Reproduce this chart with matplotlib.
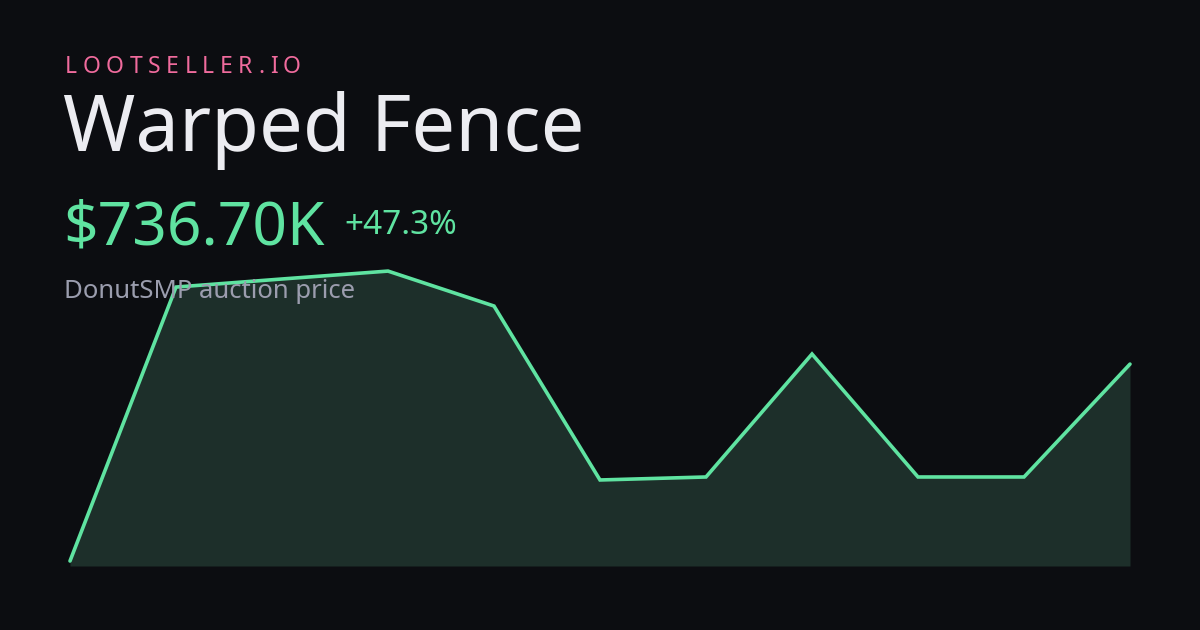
import matplotlib
matplotlib.use("Agg")
import matplotlib.pyplot as plt
from matplotlib.font_manager import FontProperties

# ---- data ----
days = list(range(11))
prices_k = [500.0, 829.3, 839.0, 848.5, 806.5, 597.4, 601.0, 748.8, 601.0, 601.0, 736.7]
brand = "LOOTSELLER.IO"
title = "Warped Fence"
price_label = "$736.70K"
change_label = "+47.3%"
subtitle = "DonutSMP auction price"

BG = "#0c0d11"
GREEN = "#5fe3a1"
FILL = "#1d2f2a"
PINK = "#f06b9d"
WHITE = "#ececf1"
GREY = "#9b9dae"
FAM = ["Noto Sans", "DejaVu Sans"]

W, H = 1200, 630
fig = plt.figure(figsize=(12, 6.3), dpi=100, facecolor=BG)

def px(x, y):
    return x / W, 1 - y / H

# chart axes
ax = fig.add_axes([70 / W, (H - 566) / H, 1060 / W, 295 / H])
ax.set_facecolor("none")
ax.set_xlim(0, 10)
ax.set_ylim(494.0, 848.6)
ax.fill_between(days, prices_k, 494.0, color=FILL, lw=0, zorder=1)
ax.plot(days, prices_k, color=GREEN, lw=2.6, solid_capstyle="round",
        solid_joinstyle="miter", clip_on=False, zorder=3)
ax.axis("off")

# letter-spaced brand
fig.canvas.draw()
r = fig.canvas.get_renderer()
fp = FontProperties(family=FAM, size=16.5)
widths = []
for ch in brand:
    t = fig.text(0, 0, ch, fontproperties=fp)
    widths.append(t.get_window_extent(r).width)
    t.remove()
x0, x1 = 65, 301
gap = (x1 - x0 - sum(widths)) / (len(brand) - 1)
x = x0
for ch, w in zip(brand, widths):
    fig.text(*px(x, 73), ch, fontproperties=fp, color=PINK, va="baseline", ha="left")
    x += w + gap

fig.text(*px(63, 151), title, family=FAM, size=56, color=WHITE, va="baseline", ha="left")
fig.text(*px(63, 244), price_label, family=FAM, size=43.5, color=GREEN, va="baseline", ha="left")
fig.text(*px(344, 234), change_label, family=FAM, size=24, color=GREEN, va="baseline", ha="left")
fig.text(*px(64, 298), subtitle, family=FAM, size=18.5, color=GREY, va="baseline", ha="left", zorder=0)

fig.savefig("out.png", dpi=100, facecolor=BG)
